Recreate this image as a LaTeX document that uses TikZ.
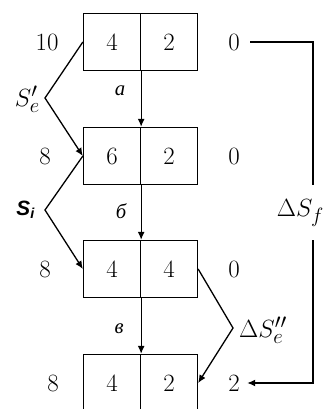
\documentclass[tikz,border=0pt]{standalone}
\usepackage{fontspec}
\newfontfamily\cyrfont{Liberation Serif}
\newfontfamily\sansfont{Liberation Sans}
\usetikzlibrary{arrows.meta}
\tikzset{
  cell/.style={draw, line width=1.3pt, minimum width=57pt, minimum height=57pt, inner sep=0pt, font=\Huge},
  num/.style={font=\Huge},
  lbl/.style={font=\Huge},
  step label/.style={font=\huge},
  wire/.style={line width=1.3pt},
  tip/.style={-{Latex[length=8pt,width=7pt]}}
}
\begin{document}
\begin{tikzpicture}[x=1pt,y=-1pt]
  \useasboundingbox (0,0) rectangle (325,409);
  % the four states
  \foreach \i/\y/\l/\r/\sx/\s/\e in {1/42/4/2/47/10/0, 2/156/6/2/45/8/0, 3/269/4/4/45/8/0, 4/383/4/2/53/8/2} {
    \node[cell] (a\i) at (112,\y) {\l};
    \node[cell] (b\i) at (169,\y) {\r};
    \node[num] (s\i) at (\sx,\y) {\s};
    \node[num] (e\i) at (234,\y) {\e};
  }
  % steps
  \draw[wire,tip] (a1.south east) -- (a2.north east);
  \draw[wire,tip] (a2.south east) -- (a3.north east);
  \draw[wire,tip] (a3.south east) -- (a4.north east);
  \node[step label] (ta) at (120,91) {\cyrfont\itshape а};
  \node[step label] (tb) at (121,211) {\cyrfont\itshape б};
  \node[step label] (tv) at (119,329) {\cyrfont\itshape в};
  % side brackets
  \coordinate (v1) at (45,98);
  \coordinate (v2) at (45,210);
  \coordinate (v3) at (233,328);
  \draw[wire,tip] (a1.west) -- (v1) -- (a2.west);
  \draw[wire,tip] (a2.west) -- (v2) -- (a3.west);
  \draw[wire,tip] (b3.east) -- (v3) -- (b4.east);
  \node[lbl,anchor=east,inner sep=0pt] (se) at (40,99) {$S'_e$};
  \node[step label,anchor=east,inner sep=0pt] (si) at (35,210) {\sansfont\bfseries\itshape S\textsubscript{i}};
  \node[lbl,anchor=west,inner sep=0pt] (dse) at (239,330) {$\Delta S''_e$};
  % right loop
  \coordinate (c1) at (313,42);
  \coordinate (c2) at (313,185);
  \coordinate (c3) at (313,240);
  \coordinate (c4) at (313,383);
  \draw[wire,shorten <=7pt] (e1.east) -- (c1) -- (c2);
  \draw[wire,tip,shorten >=4pt] (c3) -- (c4) -- (e4.east);
  \node[lbl,anchor=east,inner sep=0pt] (dsf) at (324,213) {$\Delta S_f$};
\end{tikzpicture}
\end{document}
